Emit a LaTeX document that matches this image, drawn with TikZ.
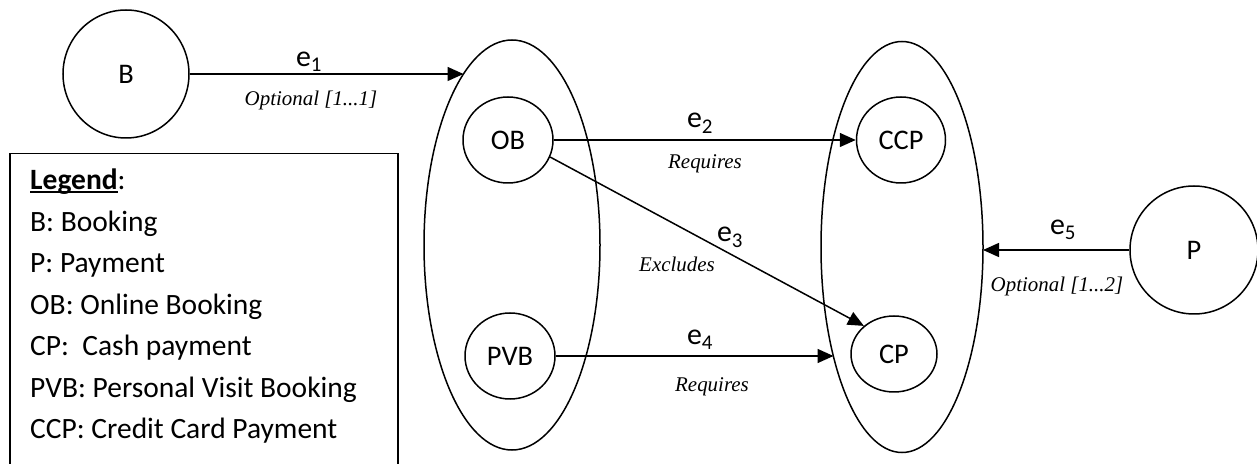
\documentclass[tikz,border=0pt]{standalone}
\usepackage{fontspec}
\setmainfont{Carlito}
\newfontfamily\tnr{Liberation Serif}
\usetikzlibrary{shapes.geometric,arrows.meta}
\newcommand\myul[1]{\setbox0\hbox{#1}\rlap{\rule[-3bp]{\wd0}{1.6bp}}\box0}
\begin{document}
\begin{tikzpicture}[x=1bp,y=-1bp,
 feat/.style={ellipse,draw,line width=1.5bp,inner sep=0pt,font=\fontsize{28.5}{34}\selectfont},
 grp/.style={ellipse,draw,line width=1.5bp,inner sep=0pt},
 arr/.style={line width=1.5bp,-{Triangle[length=16bp,width=14bp]}},
 lbl/.style={anchor=base,inner sep=0pt,font=\fontsize{30}{36}\selectfont},
 rel/.style={anchor=base,inner sep=0pt,font=\tnr\itshape\fontsize{21}{25}\selectfont},
 leg/.style={anchor=base west,inner sep=0pt,font=\fontsize{29.6}{34}\selectfont}]
\useasboundingbox (0,0) rectangle (1257,464);
% groups
\node[grp,minimum width=176bp,minimum height=410bp] (GL) at (512,245) {};
\node[grp,minimum width=162bp,minimum height=411bp] (GR) at (902,247) {};
% features
\node[feat,minimum width=126bp,minimum height=128bp] (B) at (126,74) {B};
\node[feat,minimum width=90bp,minimum height=86bp] (OB) at (508,140) {OB};
\node[feat,minimum width=90bp,minimum height=86bp] (PVB) at (510,356) {PVB};
\node[feat,minimum width=89bp,minimum height=86bp] (CCP) at (901,140) {CCP};
\node[feat,minimum width=86bp,minimum height=76bp] (CP) at (894,354) {CP};
\node[feat,minimum width=128bp,minimum height=128bp] (P) at (1194,250) {P};
% arrow ends on group borders
\coordinate (e1end) at (463.5,74);
\coordinate (e4end) at (833.5,356);
\coordinate (e5end) at (983,250);
% connectors
\draw[arr] (B) -- (e1end);
\draw[arr] (OB) -- (CCP);
\draw[arr] (OB.-22) -- (CP.137);
\draw[arr] (PVB) -- (e4end);
\draw[arr] (P) -- (e5end);
% labels
\node[lbl] (l1) at (309,67) {e\textsubscript{1}};
\node[rel] (r1) at (311,106) {Optional [1...1]};
\node[lbl] (l2) at (700,128) {e\textsubscript{2}};
\node[rel] (r2) at (705,169) {Requires};
\node[lbl] (l3) at (730,242) {e\textsubscript{3}};
\node[rel] (r3) at (677,272) {Excludes};
\node[lbl] (l4) at (700,345) {e\textsubscript{4}};
\node[rel] (r4) at (712,392) {Requires};
\node[lbl] (l5) at (1063,235) {e\textsubscript{5}};
\node[rel] (r5) at (1057,292) {Optional [1...2]};
% legend
\node[draw,line width=1.5bp,anchor=north west,minimum width=388bp,minimum height=320bp,inner sep=0pt] (legend) at (9,153) {};
\node[leg] (g0) at (30,190) {\myul{\textbf{Legend}}:};
\node[leg] (g1) at (30,232) {B: Booking};
\node[leg] (g2) at (30,273) {P: Payment};
\node[leg] (g3) at (30,314.5) {OB: Online Booking};
\node[leg] (g4) at (30,356) {CP:\ \ Cash payment};
\node[leg] (g5) at (30,397.5) {PVB: Personal Visit Booking};
\node[leg] (g6) at (30,439) {CCP: Credit Card Payment};
\end{tikzpicture}
\end{document}
